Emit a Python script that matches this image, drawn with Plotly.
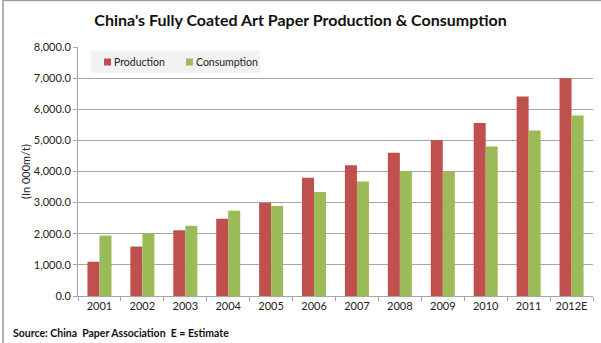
import plotly.graph_objects as go

years = ["2001", "2002", "2003", "2004", "2005", "2006", "2007", "2008", "2009", "2010", "2011", "2012E"]
production = [1100, 1590, 2110, 2480, 3000, 3800, 4200, 4600, 5010, 5560, 6410, 7000]
consumption = [1940, 2010, 2260, 2740, 2890, 3340, 3680, 4020, 3990, 4800, 5320, 5800]
y_ticks = [0, 1000, 2000, 3000, 4000, 5000, 6000, 7000, 8000]
series_names = ["Production", "Consumption"]
series_colors = ["#C0504D", "#9BBB59"]

W, H = 601, 343
L, R, T, B = 78, 8, 47, 47
pw, ph = W - L - R, H - T - B

font = "Lato, 'Open Sans', sans-serif"


def px_x(x):
    return (x - L) / pw


def px_y(y):
    return 1 - (y - T) / ph


fig = go.Figure()
for name, vals, col in zip(series_names, [production, consumption], series_colors):
    fig.add_trace(go.Bar(name=name, x=years, y=vals, marker=dict(color=col, line=dict(width=0)),
                         showlegend=False))

fig.update_layout(
    width=W, height=H,
    margin=dict(l=L, r=R, t=T, b=B, autoexpand=False),
    paper_bgcolor="white", plot_bgcolor="white",
    barmode="group", bargap=0.44, bargroupgap=0,
    font=dict(family=font, size=11, color="#222"),
    title=dict(text="<b>China's Fully Coated Art Paper Production &amp; Consumption</b>",
               x=0.5, xanchor="center", y=1 - 20 / H, yanchor="middle",
               font=dict(size=16, color="#111", family=font)),
    xaxis=dict(type="category", showgrid=False, showline=True, linecolor="#A6A6A6", linewidth=1,
               ticks="outside", tickson="boundaries", ticklen=4, tickcolor="#A6A6A6",
               tickfont=dict(size=11, color="#222"), automargin=False),
    yaxis=dict(range=[0, 8000], tickvals=y_ticks, tickformat=",.1f", showgrid=True,
               gridcolor="#A6A6A6", gridwidth=1, showline=True, linecolor="#A6A6A6",
               ticks="outside", ticklen=4, tickcolor="#A6A6A6", zeroline=False,
               tickfont=dict(size=11, color="#222"), automargin=False,
               title=dict(text="(In 000m/t)", font=dict(size=11, color="#222"), standoff=0)),
)

# legend box (drawn manually for compact Excel-like spacing)
fig.add_shape(type="rect", xref="paper", yref="paper", layer="above",
              x0=px_x(91), x1=px_x(260), y0=px_y(73), y1=px_y(51),
              fillcolor="#F2F2F2", line=dict(width=0))
leg_x = [104, 186]
for name, col, lx in zip(series_names, series_colors, leg_x):
    fig.add_shape(type="rect", xref="paper", yref="paper", layer="above",
                  x0=px_x(lx), x1=px_x(lx + 7), y0=px_y(65.5), y1=px_y(58.5),
                  fillcolor=col, line=dict(width=0))
    fig.add_annotation(text=name, xref="paper", yref="paper", x=px_x(lx + 8), y=px_y(62),
                       xanchor="left", yanchor="middle", showarrow=False,
                       font=dict(size=10.5, color="#222", family=font))

fig.add_annotation(text="<b>Source: China  Paper Association  E = Estimate</b>",
                   xref="paper", yref="paper", x=px_x(11), y=px_y(333),
                   xanchor="left", yanchor="middle", showarrow=False,
                   font=dict(size=10.5, color="#111", family=font))

# chart frame (top and left edges visible)
fig.add_shape(type="line", xref="paper", yref="paper",
              x0=px_x(3), x1=px_x(W), y0=px_y(0.5), y1=px_y(0.5),
              line=dict(color="#9A9A9A", width=1.5))
fig.add_shape(type="line", xref="paper", yref="paper",
              x0=px_x(3), x1=px_x(3), y0=px_y(0), y1=px_y(H),
              line=dict(color="#9A9A9A", width=1.5))

fig.write_html("out.html", config={"displayModeBar": False},
               post_script="document.body.style.margin='0';document.body.style.overflow='hidden';")
